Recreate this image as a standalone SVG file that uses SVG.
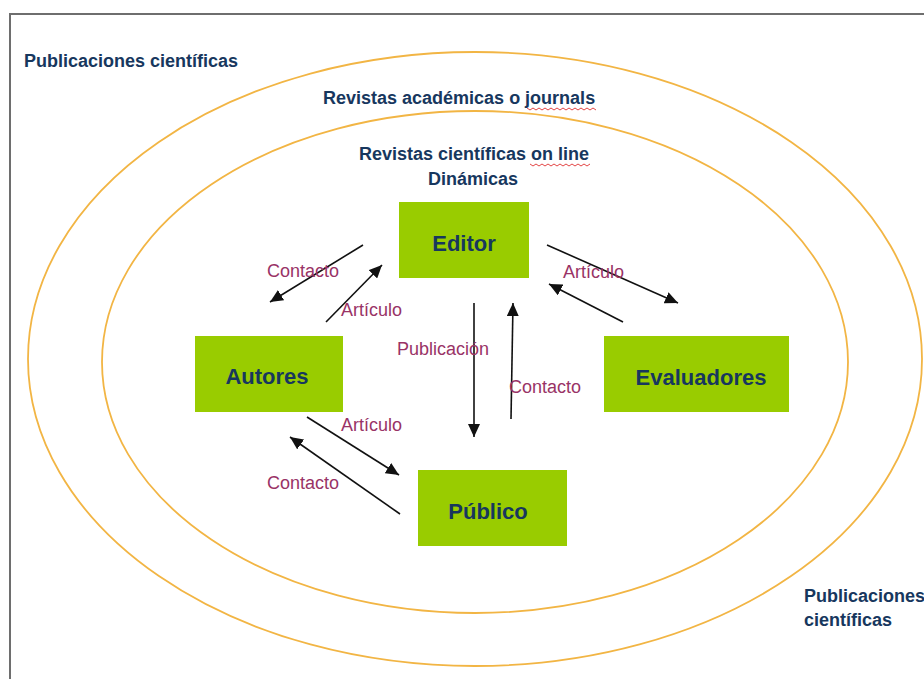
<svg xmlns="http://www.w3.org/2000/svg" width="924" height="679" viewBox="0 0 924 679">
<defs>
<style>
.frame{fill:#fff;stroke:#6e6e6e;stroke-width:2}
.ring{fill:none;stroke:#F2B544;stroke-width:1.8}
.box{fill:#99CC00}
.title{font-family:"Liberation Sans",Arial,sans-serif;font-weight:bold;font-size:18px;fill:#17375E}
.name{font-family:"Liberation Sans",Arial,sans-serif;font-weight:bold;font-size:22px;fill:#17375E;text-anchor:middle}
.lab{font-family:"Liberation Sans",Arial,sans-serif;font-size:18px;fill:#993366}
.conn{stroke:#111;stroke-width:1.6;fill:none;marker-end:url(#ah)}
.squig{fill:none;stroke:#e03030;stroke-width:0.9}
</style>
<marker id="ah" markerUnits="userSpaceOnUse" markerWidth="14" markerHeight="12" refX="13" refY="6" orient="auto">
<path d="M0,0 L13,6 L0,12 z" fill="#111"/>
</marker>
</defs>
<rect x="0" y="0" width="924" height="679" fill="#fff"/>
<rect class="frame" x="10" y="14" width="940" height="700"/>
<g id="rings">
<ellipse class="ring" cx="475" cy="359" rx="447" ry="307"/>
<ellipse class="ring" cx="475" cy="362" rx="373" ry="251"/>
</g>
<g id="titles">
<text class="title" x="24" y="67">Publicaciones científicas</text>
<text class="title" x="323" y="104">Revistas académicas o journals</text>
<path class="squig" d="M527,108 l3,2 l3,-2 l3,2 l3,-2 l3,2 l3,-2 l3,2 l3,-2 l3,2 l3,-2 l3,2 l3,-2 l3,2 l3,-2 l3,2 l3,-2 l3,2 l3,-2 l3,2 l3,-2 l3,2 l3,-2 l3,2"/>
<text class="title" x="474" y="160" text-anchor="middle">Revistas científicas <tspan>on line</tspan></text>
<path class="squig" d="M530,164 l3,2 l3,-2 l3,2 l3,-2 l3,2 l3,-2 l3,2 l3,-2 l3,2 l3,-2 l3,2 l3,-2 l3,2 l3,-2 l3,2 l3,-2 l3,2 l3,-2 l3,2 l3,-2"/>
<text class="title" x="473" y="185" text-anchor="middle">Dinámicas</text>
<text class="title" x="804" y="602">Publicaciones</text>
<text class="title" x="804" y="626">científicas</text>
</g>
<g id="node-editor">
<rect class="box" x="399" y="202" width="130" height="76"/>
<text class="name" x="464" y="251">Editor</text>
</g>
<g id="node-autores">
<rect class="box" x="195" y="336" width="148" height="76"/>
<text class="name" x="267" y="384">Autores</text>
</g>
<g id="node-evaluadores">
<rect class="box" x="604" y="336" width="185" height="76"/>
<text class="name" x="701" y="385">Evaluadores</text>
</g>
<g id="node-publico">
<rect class="box" x="418" y="470" width="149" height="76"/>
<text class="name" x="488" y="519">Público</text>
</g>
<g id="connectors">
<line class="conn" x1="363" y1="245" x2="270" y2="302"/>
<line class="conn" x1="326" y1="322" x2="382" y2="265"/>
<line class="conn" x1="474" y1="303" x2="474" y2="437"/>
<line class="conn" x1="511" y1="419" x2="513" y2="303"/>
<line class="conn" x1="547" y1="245" x2="678" y2="303"/>
<line class="conn" x1="623" y1="322" x2="549" y2="284"/>
<line class="conn" x1="307" y1="417" x2="399" y2="475"/>
<line class="conn" x1="400" y1="514" x2="290" y2="437"/>
</g>
<g id="labels">
<text class="lab" x="267" y="277">Contacto</text>
<text class="lab" x="341" y="316">Artículo</text>
<text class="lab" x="563" y="278">Artículo</text>
<text class="lab" x="397" y="355">Publicación</text>
<text class="lab" x="509" y="393">Contacto</text>
<text class="lab" x="341" y="431">Artículo</text>
<text class="lab" x="267" y="489">Contacto</text>
</g>
</svg>
